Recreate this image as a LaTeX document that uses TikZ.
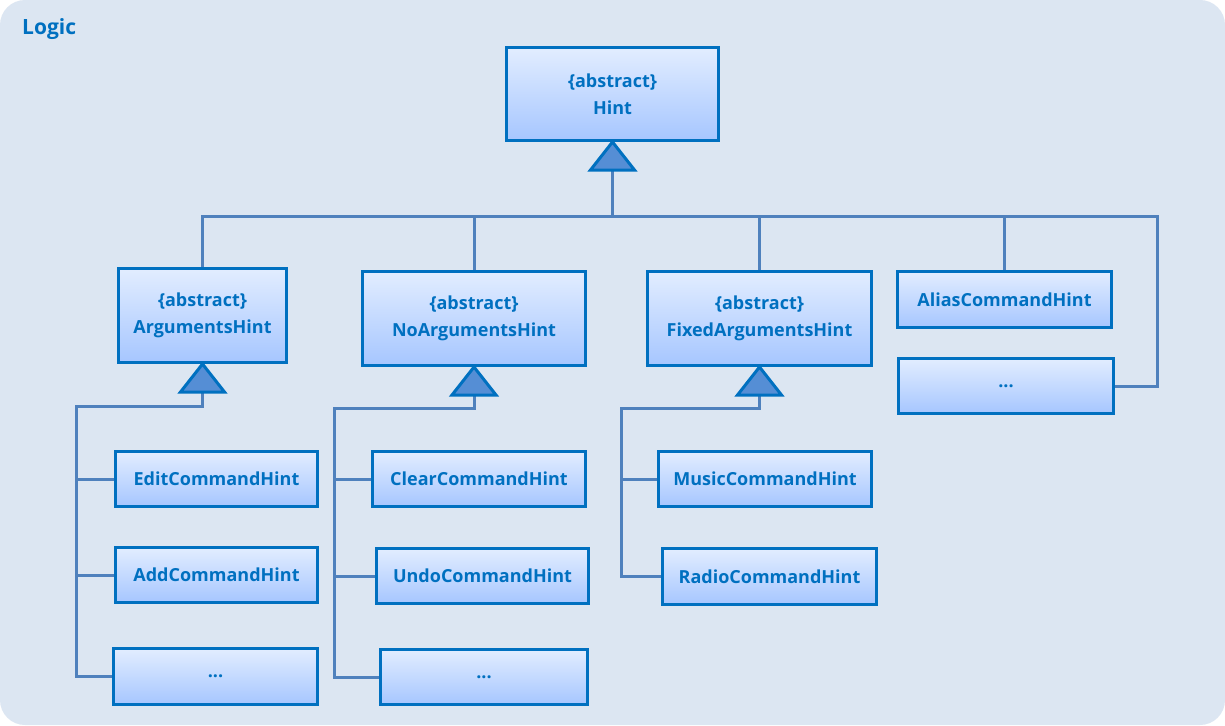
\documentclass[tikz,border=0pt]{standalone}
\usepackage{fontspec}
\setmainfont{Open Sans}
\usetikzlibrary{calc}
\definecolor{bgc}{RGB}{220,230,242}
\definecolor{txc}{RGB}{0,112,192}
\definecolor{gtop}{RGB}{226,237,255}
\definecolor{gbot}{RGB}{166,198,255}
\definecolor{conc}{RGB}{79,129,189}
\definecolor{trif}{RGB}{85,142,213}
\tikzset{
  box/.style={draw=txc, line width=3pt, top color=gtop, bottom color=gbot,
    text=txc, font=\bfseries\fontsize{18}{27}\selectfont, align=center, inner sep=0pt},
  conn/.style={draw=conc, line width=3pt},
  inh/.style={draw=txc, fill=trif, line width=3pt, line join=miter},
}
\newcommand{\tri}[2]{%
  \draw[inh] (#1.south) -- ++(-22,28) -- ++(44,0) -- cycle;
  \coordinate (#2) at ($(#1.south)+(0,28)$);}
\begin{document}
\begin{tikzpicture}[x=1pt,y=-1pt]
\fill[white] (0,0) rectangle (1225,725);
\fill[bgc, rounded corners=25pt] (0,0) rectangle (1225,725);
\node[anchor=west, text=txc, font=\bfseries\fontsize{21}{24}\selectfont, inner sep=0pt] (logic) at (22,29) {Logic};

\node[box, minimum width=212, minimum height=93] (hint) at (612.5,94) {\{abstract\}\\Hint};
\node[box, minimum width=168, minimum height=94] (args) at (202.5,315.5) {\{abstract\}\\ArgumentsHint};
\node[box, minimum width=223, minimum height=94] (noargs) at (474,318.5) {\{abstract\}\\NoArgumentsHint};
\node[box, minimum width=224, minimum height=94] (fixed) at (759.5,318.5) {\{abstract\}\\FixedArgumentsHint};
\node[box, minimum width=214, minimum height=56] (alias) at (1004.5,299.5) {AliasCommandHint};
\node[box, minimum width=215, minimum height=55] (dotsR) at (1006,386) {...};

\node[box, minimum width=202, minimum height=55] (edit) at (216.5,479) {EditCommandHint};
\node[box, minimum width=202, minimum height=55] (add) at (216.5,575) {AddCommandHint};
\node[box, minimum width=204, minimum height=56] (dotsA) at (215.5,676.5) {...};

\node[box, minimum width=213, minimum height=55] (clear) at (479,479) {ClearCommandHint};
\node[box, minimum width=212, minimum height=55] (undo) at (482.5,576) {UndoCommandHint};
\node[box, minimum width=207, minimum height=55] (dotsN) at (484,677) {...};

\node[box, minimum width=213, minimum height=55] (music) at (765,479) {MusicCommandHint};
\node[box, minimum width=214, minimum height=56] (radio) at (769.5,576.5) {RadioCommandHint};

% top level
\coordinate (j) at (612.5,216);
\coordinate (jr) at (1157,216);
\draw[conn] ($(hint.south)+(0,28)$) -- (j);
\draw[conn] (args.north) |- (j);
\draw[conn] (noargs.north) |- (j);
\draw[conn] (fixed.north) |- (j);
\draw[conn] (alias.north) |- (j);
\draw[conn] (dotsR.east) -| (jr) -- (j);
\tri{hint}{hT}

% arguments
\coordinate (aK) at (76,406);
\draw[conn] ($(args.south)+(0,28)$) |- (aK) |- (dotsA.west);
\draw[conn] (edit.west) -- (edit.west -| aK);
\draw[conn] (add.west) -- (add.west -| aK);
\tri{args}{aT}

% no arguments
\coordinate (nK) at (334,408);
\draw[conn] ($(noargs.south)+(0,28)$) |- (nK) |- (dotsN.west);
\draw[conn] (clear.west) -- (clear.west -| nK);
\draw[conn] (undo.west) -- (undo.west -| nK);
\tri{noargs}{nT}

% fixed arguments
\coordinate (fK) at (621,408);
\draw[conn] ($(fixed.south)+(0,28)$) |- (fK) |- (radio.west);
\draw[conn] (music.west) -- (music.west -| fK);
\tri{fixed}{fT}
\end{tikzpicture}
\end{document}
